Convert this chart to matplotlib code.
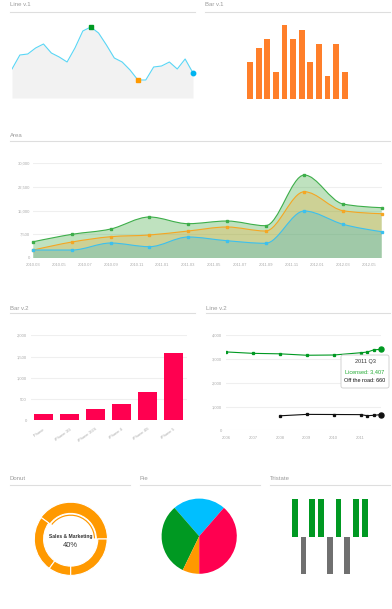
import matplotlib
matplotlib.use('Agg')
import matplotlib.pyplot as plt
import numpy as np
from matplotlib.path import Path
from matplotlib.patches import PathPatch, Wedge, FancyBboxPatch
from matplotlib.lines import Line2D

plt.rcParams['font.family'] = ['Liberation Sans', 'DejaVu Sans']

# ---------------- data ----------------
line1_values = [29, 43, 44, 50, 54, 45, 41, 36, 50, 67, 71, 65, 53, 40, 36, 28, 18, 18, 31, 32, 36, 29, 39, 25]
bar1_values = [37, 51, 60, 27, 74, 60, 69, 37, 55, 23, 55, 27]

area_dates = ['2010.03', '2010.06', '2010.09', '2010.12', '2011.03', '2011.06',
              '2011.09', '2011.12', '2012.03', '2012.06']
area_green = [5160, 7510, 9190, 12990, 10870, 11720, 10230, 26290, 17110, 15940]
area_orange = [2530, 5070, 6750, 7290, 8550, 9820, 8550, 21000, 14990, 14030]
area_blue = [2530, 2530, 4750, 3580, 6650, 5480, 4660, 14890, 10680, 8330]
area_xticklabels = ['2010.03', '2010.05', '2010.07', '2010.09', '2010.11', '2011.01', '2011.03',
                    '2011.05', '2011.07', '2011.09', '2011.11', '2012.01', '2012.03', '2012.05']
area_yticks = [0, 7500, 15000, 22500, 30000]

phones = ['iPhone', 'iPhone 3G', 'iPhone 3GS', 'iPhone 4', 'iPhone 4S', 'iPhone 5']
phone_sales = [140, 140, 275, 385, 660, 1580]
bar2_yticks = [0, 500, 1000, 1500, 2000]

licensed_x = [2006, 2007, 2008, 2009, 2010, 2011, 2011.25, 2011.5, 2011.75]
licensed = [3300, 3240, 3220, 3160, 3170, 3265, 3295, 3390, 3407]
offroad_x = [2008, 2009, 2010, 2011, 2011.25, 2011.5, 2011.75]
offroad = [610, 670, 665, 660, 615, 632, 660]
line2_years = [2006, 2007, 2008, 2009, 2010, 2011]
line2_yticks = [0, 1000, 2000, 3000, 4000]

donut_values = [40, 25, 10, 25]
donut_label = 'Sales & Marketing'
donut_pct = '40%'

pie_values = [22.8, 31.4, 7.2, 38.6]
pie_colors = ['#00bfff', '#009922', '#ff9900', '#ff0050']

tristate_values = [1, -1, 1, 1, -1, 1, -1, 1, 1]

# ---------------- figure ----------------
W, H = 392, 609
fig = plt.figure(figsize=(W / 100, H / 100), dpi=100)

TITLE_C = '#9a9a9a'
RULE_C = '#dedede'
TICK_C = '#aaaaaa'
GRID_C = '#efefef'
TFS = 3.0


def ax_px(x0, y0, x1, y1):
    return fig.add_axes([x0 / W, 1 - y1 / H, (x1 - x0) / W, (y1 - y0) / H])


def header(text, x0, x1, y_text, y_rule):
    fig.text(x0 / W, 1 - y_text / H, text, fontsize=4.3, color=TITLE_C, ha='left', va='center')
    fig.add_artist(Line2D([x0 / W, x1 / W], [1 - y_rule / H] * 2, color=RULE_C, lw=0.8))


def clean(ax):
    for s in ax.spines.values():
        s.set_visible(False)
    ax.tick_params(length=0, labelsize=TFS, labelcolor=TICK_C)


def monotone_path(xs, ys, close_to=None):
    xs = np.asarray(xs, float)
    ys = np.asarray(ys, float)
    n = len(xs)
    h = np.diff(xs)
    s = np.diff(ys) / h
    t = np.zeros(n)
    for i in range(1, n - 1):
        p = (s[i - 1] * h[i] + s[i] * h[i - 1]) / (h[i - 1] + h[i])
        t[i] = (np.sign(s[i - 1]) + np.sign(s[i])) * min(abs(s[i - 1]), abs(s[i]), 0.5 * abs(p))
    t[0] = (3 * s[0] - t[1]) / 2
    t[-1] = (3 * s[-1] - t[-2]) / 2
    verts = [(xs[0], ys[0])]
    codes = [Path.MOVETO]
    for i in range(n - 1):
        dx = h[i] / 3
        verts += [(xs[i] + dx, ys[i] + dx * t[i]), (xs[i + 1] - dx, ys[i + 1] - dx * t[i + 1]),
                  (xs[i + 1], ys[i + 1])]
        codes += [Path.CURVE4] * 3
    if close_to is not None:
        verts += [(xs[-1], close_to), (xs[0], close_to), (xs[0], ys[0])]
        codes += [Path.LINETO, Path.LINETO, Path.CLOSEPOLY]
    return Path(verts, codes)


# ---------------- Line v.1 ----------------
header('Line v.1', 10, 195, 5, 11.5)
ax = ax_px(12, 23, 193, 98)
x1 = np.arange(len(line1_values))
ax.fill_between(x1, line1_values, 0, color='#f2f2f2', lw=0)
ax.plot(x1, line1_values, color='#5ad6f5', lw=0.8)
imax = int(np.argmax(line1_values))
imin = int(np.argmin(line1_values))
ax.plot(x1[imax], line1_values[imax], 's', color='#009922', ms=2.6, clip_on=False)
ax.plot(x1[imin], line1_values[imin], 's', color='#ff9900', ms=2.6, clip_on=False)
ax.plot(x1[-1], line1_values[-1], 'o', color='#00b4f0', ms=3.2, clip_on=False)
ax.set_xlim(0, len(line1_values) - 1)
ax.set_ylim(0, 75)
ax.axis('off')

# ---------------- Bar v.1 ----------------
header('Bar v.1', 205, 390, 5, 11.5)
ax = ax_px(245.7, 24.3, 349.1, 99.3)
ax.bar(np.arange(len(bar1_values)), bar1_values, width=0.68, color='#ff7f2a')
ax.set_xlim(-0.5, len(bar1_values) - 0.5)
ax.set_ylim(0, 75)
ax.axis('off')

# ---------------- Area ----------------
header('Area', 10, 390, 135, 141)
ax = ax_px(33.3, 163.3, 381.7, 258)


def month_index(s):
    y, m = s.split('.')
    return (int(y) - 2010) * 12 + int(m) - 3


ax_x = [month_index(d) for d in area_dates]
series = [(area_green, '#3dae4a', '#2ca02c', 0.30),
          (area_orange, '#f5a623', '#ff9900', 0.22),
          (area_blue, '#3cc0ee', '#00b0f0', 0.22)]
for vals, lc, fc, a in series:
    ax.add_patch(PathPatch(monotone_path(ax_x, vals, close_to=0), facecolor=fc, alpha=a, lw=0))
for vals, lc, fc, a in series:
    ax.add_patch(PathPatch(monotone_path(ax_x, vals), facecolor='none', edgecolor=lc, lw=0.8))
    ax.plot(ax_x, vals, 's', color=lc, ms=1.6, clip_on=False)
ax.set_xlim(0, 27)
ax.set_ylim(0, 30000)
ax.set_yticks(area_yticks)
ax.set_yticklabels([f'{v:,}' for v in area_yticks])
ax.set_xticks([month_index(d) for d in area_xticklabels])
ax.set_xticklabels(area_xticklabels)
ax.grid(axis='y', color=GRID_C, lw=0.8)
ax.set_axisbelow(True)
clean(ax)
ax.tick_params(axis='y', pad=2.4)
ax.tick_params(axis='x', pad=3.4)

# ---------------- Bar v.2 ----------------
header('Bar v.2', 10, 195, 308.3, 313.3)
ax = ax_px(30.7, 335.3, 186.7, 420.3)
ax.bar(np.arange(len(phones)), phone_sales, width=0.745, color='#ff0050')
ax.set_xlim(-0.5, len(phones) - 0.5)
ax.set_ylim(0, 2000)
ax.set_yticks(bar2_yticks)
ax.set_yticklabels([f'{v:,}' for v in bar2_yticks])
ax.set_xticks(np.arange(len(phones)))
ax.set_xticklabels(phones, rotation=35, ha='right', rotation_mode='anchor')
ax.grid(axis='y', color=GRID_C, lw=0.8)
ax.set_axisbelow(True)
clean(ax)
ax.tick_params(axis='y', pad=2.9)
ax.tick_params(axis='x', pad=5)

# ---------------- Line v.2 ----------------
header('Line v.2', 206, 390, 308.3, 313.3)
ax = ax_px(226, 335.3, 381.3, 430.3)
ax.plot(licensed_x, licensed, '-', color='#009922', lw=0.8)
ax.plot(licensed_x[:-1], licensed[:-1], 's', color='#009922', ms=1.4)
ax.plot(licensed_x[-1], licensed[-1], 'o', color='#009922', ms=3.6, clip_on=False)
ax.plot(offroad_x, offroad, '-', color='#111111', lw=0.8)
ax.plot(offroad_x[:-1], offroad[:-1], 's', color='#111111', ms=1.4)
ax.plot(offroad_x[-1], offroad[-1], 'o', color='#111111', ms=3.6, clip_on=False)
ax.set_xlim(2006, 2011.77)
ax.set_ylim(0, 4000)
ax.set_yticks(line2_yticks)
ax.set_yticklabels([f'{v:,}' for v in line2_yticks])
ax.set_xticks(line2_years)
ax.set_xticklabels([str(y) for y in line2_years])
ax.grid(axis='y', color=GRID_C, lw=0.8)
ax.set_axisbelow(True)
clean(ax)
ax.tick_params(axis='y', pad=2.9)
ax.tick_params(axis='x', pad=4.2)

# ---------------- Donut ----------------
header('Donut', 10, 130, 479, 485)
ax = ax_px(30.7, 499, 110.7, 579)
wedges, _ = ax.pie(donut_values, colors=['#ff9900'] * len(donut_values), radius=36.4,
                   startangle=0, counterclock=True,
                   wedgeprops=dict(width=9.3, edgecolor='white', linewidth=0.8))
wedges[0].set_radius(36.8)
wedges[0].set_width(11.2)
th1, th2 = wedges[0].theta1, wedges[0].theta2
ax.add_patch(Wedge((0, 0), 24.4, th1 + 1.5, th2 - 1.5, width=1.2, facecolor='#ff9900', lw=0))
ax.text(0, 2.4, donut_label, fontsize=3.6, fontweight='bold', color='#333333', ha='center', va='center')
ax.text(0, -6.6, donut_pct, fontsize=5.4, color='#333333', ha='center', va='center')
ax.set_xlim(-40, 40)
ax.set_ylim(-40, 40)
ax.set_aspect('equal')
ax.axis('off')

# ---------------- Pie ----------------
header('Pie', 140, 260, 479, 485)
ax = ax_px(159.2, 496.2, 239.2, 576.2)
ax.pie(pie_values, colors=pie_colors, radius=37.6, startangle=49, counterclock=True,
       wedgeprops=dict(linewidth=0))
ax.set_xlim(-40, 40)
ax.set_ylim(-40, 40)
ax.set_aspect('equal')
ax.axis('off')

# ---------------- Tristate ----------------
header('Tristate', 270, 390, 479, 485)
ax = ax_px(290.4, 499, 369.2, 574)
tx = np.arange(len(tristate_values))
tcol = ['#009922' if v > 0 else '#707070' for v in tristate_values]
ax.bar(tx, tristate_values, width=0.65, color=tcol)
ax.set_xlim(-0.5, len(tristate_values) - 0.5)
ax.set_ylim(-1, 1)
ax.axis('off')

# ---------------- tooltip overlay ----------------
ov = fig.add_axes([0, 0, 1, 1])
ov.set_xlim(0, W)
ov.set_ylim(H, 0)
ov.axis('off')
ov.add_patch(FancyBboxPatch((341, 355), 48, 33, boxstyle='round,pad=0,rounding_size=2',
                            facecolor='white', edgecolor='#cccccc', lw=0.6))
ov.text(365, 361.5, '2011 Q3', fontsize=4.0, color='#333333', ha='center', va='center')
ov.text(365, 372, f'Licensed: {licensed[-1]:,}', fontsize=4.0, color='#22aa33', ha='center', va='center')
ov.text(365, 381, f'Off the road: {offroad[-1]:,}', fontsize=4.0, color='#111111', ha='center', va='center')

fig.savefig('out.png', dpi=100)
